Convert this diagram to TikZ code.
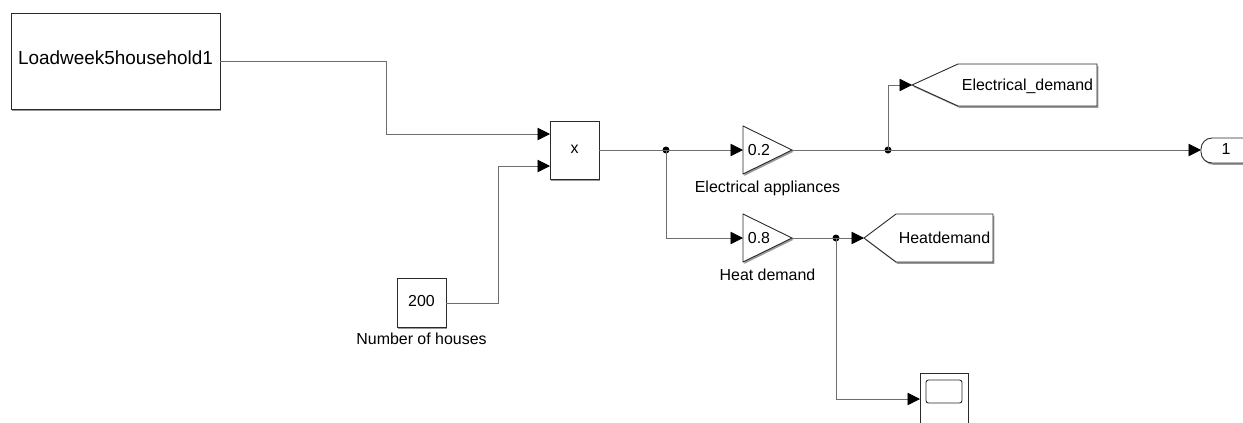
\documentclass[tikz,border=0pt]{standalone}
\usepackage{fontspec}
\setmainfont{Liberation Sans}
\usetikzlibrary{arrows.meta,shadows}
\definecolor{wirecol}{HTML}{6E6E6E}
\definecolor{edgecol}{HTML}{2A2A2A}
\tikzset{
  x=1bp,y=-1bp,
  txt/.style={inner sep=0pt,font=\fontsize{16}{18}\selectfont,text=black},
  softshadow/.style={drop shadow={shadow xshift=1.4bp,shadow yshift=-1.8bp,opacity=.4,fill=black}},
  blockshape/.style={draw=edgecol,line width=.9bp,fill=white,softshadow,line join=miter},
  rectblock/.style={blockshape,rectangle,inner sep=0pt,text height=.72em,text depth=0pt,font=\fontsize{16}{18}\selectfont,text=black},
  wire/.style={draw=wirecol,line width=.8bp},
  arrowwire/.style={wire,-{Triangle[length=12.5bp,width=12.5bp,color=black,fill=black]}},
  junction/.style={circle,fill=black,inner sep=0pt,minimum size=7bp},
}
\begin{document}
\begin{tikzpicture}
\useasboundingbox (0,0) rectangle (1243,422);
\begin{scope}
\clip (0,0) rectangle (1243,422);
% blocks
\node[rectblock,minimum width=209bp,minimum height=96bp,font=\fontsize{19}{21}\selectfont] (load) at (115.5,61) {Loadweek5household1};
\node[rectblock,minimum width=49bp,minimum height=58bp] (mul) at (574.5,150) {x};
\node[rectblock,minimum width=49bp,minimum height=49bp] (const) at (421.5,302.5) {200};
\node[txt,anchor=base] (constlabel) at (421.5,344.6) {Number of houses};
% gains
\path[blockshape] (743,126) -- (792,150) -- (743,174) -- cycle;
\coordinate (g1in) at (743,150);
\coordinate (g1out) at (792,150);
\node[txt,anchor=base] (g1val) at (759,155.4) {0.2};
\node[txt,anchor=base] (g1label) at (767.5,192.4) {Electrical appliances};
\path[blockshape] (743,214) -- (792,238) -- (743,262) -- cycle;
\coordinate (g2in) at (743,238);
\coordinate (g2out) at (792,238);
\node[txt,anchor=base] (g2val) at (759,243.4) {0.8};
\node[txt,anchor=base] (g2label) at (767.5,280) {Heat demand};
% gotos
\path[blockshape] (912,85) -- (958,64) -- (1097,64) -- (1097,106) -- (958,106) -- cycle;
\coordinate (gotoE) at (912,85);
\node[txt,anchor=base] (gotoEtext) at (1027.5,90.5) {Electrical\_demand};
\path[blockshape] (864,238) -- (896,214) -- (993,214) -- (993,262) -- (896,262) -- cycle;
\coordinate (gotoH) at (864,238);
\node[txt,anchor=base] (gotoHtext) at (944.5,243.2) {Heatdemand};
% outport
\path[blockshape,rounded corners=11bp] (1260,138) -- (1201,138) -- (1201,163) -- (1260,163);
\coordinate (outp) at (1201,150.5);
\node[txt,anchor=base] (outtext) at (1226,154.8) {1};
% scope
\node[rectblock,minimum width=48bp,minimum height=80bp] (scopeblk) at (944,413) {};
\path[draw=edgecol,line width=.9bp,rounded corners=2.5bp] (926,380) rectangle (962,403);
\coordinate (scopein) at (920,399);
% ports
\coordinate (mulA) at (550,134);
\coordinate (mulB) at (550,166);
\coordinate (mulOut) at (599,150);
\coordinate (loadOut) at (220,61);
\coordinate (constOut) at (446,303);
% junctions
\node[junction] (j1) at (666,150) {};
\node[junction] (j2) at (888,150) {};
\node[junction] (j3) at (836,238) {};
% wires
\draw[arrowwire] (loadOut) -| (386,134) -- (mulA);
\draw[arrowwire] (constOut) -| (498,166) -- (mulB);
\draw[wire] (mulOut) -- (j1.center);
\draw[arrowwire] (j1.center) -- (g1in);
\draw[arrowwire] (j1.center) |- (g2in);
\draw[wire] (g1out) -- (j2.center);
\draw[arrowwire] (j2.center) |- (gotoE);
\draw[arrowwire] (j2.center) -- (j2.center -| outp);
\draw[wire] (g2out) -- (j3.center);
\draw[arrowwire] (j3.center) -- (gotoH);
\draw[arrowwire] (j3.center) |- (scopein);
\end{scope}
\end{tikzpicture}
\end{document}
